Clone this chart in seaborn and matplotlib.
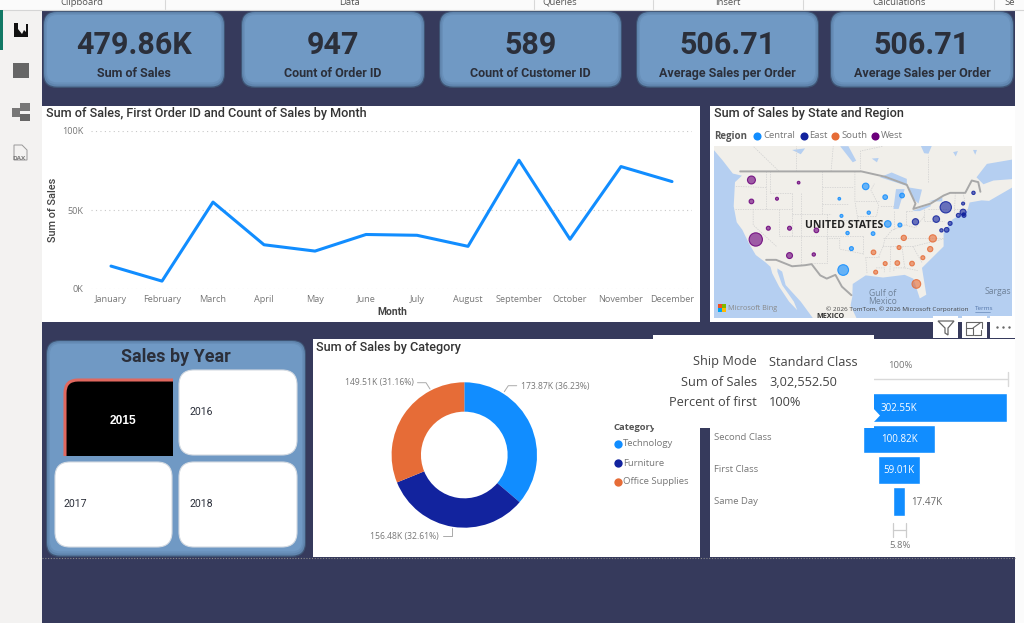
import matplotlib
matplotlib.use("Agg")
import matplotlib.pyplot as plt
import pandas as pd
import seaborn as sns
from matplotlib.patches import FancyBboxPatch, Polygon, Rectangle

# ---- dashboard data ----
kpi_values = ["479.86K", "947", "589", "506.71", "506.71"]
kpi_labels = ["Sum of Sales", "Count of Order ID", "Count of Customer ID",
              "Average Sales per Order", "Average Sales per Order"]

months = ["January", "February", "March", "April", "May", "June", "July",
          "August", "September", "October", "November", "December"]
month_sales = [14500, 5000, 55000, 28000, 24000, 34500, 34000, 27000,
               81500, 31500, 77500, 68000]

categories = ["Technology", "Furniture", "Office Supplies"]
category_sales = [173.87, 156.48, 149.51]
category_labels = ["173.87K (36.23%)", "156.48K (32.61%)", "149.51K (31.16%)"]

ship_modes = ["Standard Class", "Second Class", "First Class", "Same Day"]
ship_sales = [302.55, 100.82, 59.01, 17.47]

years = ["2015", "2016", "2017", "2018"]

regions = ["Central", "East", "South", "West"]
state_region = (["West"] * 10 + ["Central"] * 12 + ["East"] * 12 + ["South"] * 11)
state_lon = [-120.4, -109.5, -120.4, -114.5, -116.5, -111.6, -105.4, -119.4, -111.6, -106.0,
             -94.0, -100.1, -89.5, -85.6, -93.3, -99.6, -88.9, -86.1, -98.2, -92.3, -97.3, -99.2,
             -75.5, -77.7, -82.5, -71.5, -69.1, -71.5, -72.6, -71.3, -74.5, -75.3, -76.5, -71.4,
             -78.5, -79.1, -85.2, -86.3, -92.2, -80.8, -83.3, -86.7, -89.5, -91.7, -82.3]
state_lat = [47.4, 46.9, 43.4, 43.9, 38.4, 38.4, 38.0, 36.3, 33.3, 33.5,
             46.2, 43.9, 44.2, 44.5, 41.3, 40.7, 39.2, 39.0, 37.5, 37.4, 34.6, 30.6,
             42.3, 40.1, 39.6, 43.0, 45.0, 41.4, 40.8, 40.8, 39.3, 38.1, 38.0, 41.0,
             36.5, 34.5, 36.6, 34.8, 33.9, 32.9, 31.8, 31.9, 31.8, 30.2, 28.0]
state_sales = [32, 3.6, 11, 4.5, 8, 8, 11, 90, 18, 5.6,
               22, 3.6, 11, 11, 5.6, 4.5, 22, 8, 5.6, 7, 8, 58,
               65, 22, 20, 4.5, 5.6, 18, 8, 8, 8, 11, 5.6, 4,
               27, 14, 14, 8, 11, 8, 11, 11, 8, 8, 38]

# coastline and water bodies of the base map, as lon/lat rings
land_ring = [(-129.1, 54.0), (-129.1, 53.0), (-127, 51), (-124.7, 48.6), (-122.6, 48.2),
             (-124.2, 47), (-124.5, 42.5), (-123.8, 39.5), (-122.5, 38.1), (-121, 35.6),
             (-119.4, 33.4), (-117.1, 32), (-116, 31.2), (-115.6, 30), (-114, 27.5),
             (-111.7, 24.7), (-109.8, 23.1), (-110.6, 24.7), (-113.3, 27.8), (-114.4, 30.3),
             (-114.4, 30.9), (-113.3, 30.3), (-112.5, 27.8), (-109, 24.7), (-106, 21.4),
             (-96, 21.4), (-97.5, 24), (-97.1, 25.6), (-97, 28), (-94, 29.6), (-90, 29.2), (-85, 29.7),
             (-83, 29), (-81.5, 25.3), (-80, 26), (-81, 31), (-76, 35), (-76, 37.5),
             (-74, 40), (-70.5, 41.7), (-70, 43.2), (-67.2, 43.6), (-65.5, 43.5), (-59.5, 46.3),
             (-59.5, 54)]
lake_rings = [
    [(-90.7, 47.9), (-88, 48.8), (-84.5, 47.6), (-84.5, 46.3), (-87.6, 47.1)],
    [(-87.6, 42), (-86.4, 42), (-85, 45.7), (-87, 45.7)],
    [(-84, 46), (-81, 45.6), (-81.8, 43), (-83.2, 44)],
    [(-83.3, 41.6), (-79, 42.9), (-79, 42.5), (-81.5, 41.6)],
    [(-79.5, 43.4), (-76.3, 44.1), (-76.3, 43.4)],
    [(-99.9, 53.7), (-98, 53.7), (-96.2, 51), (-97, 50.7)],
    [(-81.5, 54.2), (-78.5, 54.2), (-79.5, 52.3), (-80.5, 52.4)],
    [(-68.4, 47.9), (-66, 50.4), (-59.5, 51.3), (-59.5, 47.6), (-64.5, 47.3), (-66.8, 46.6)],
    [(-92.6, 51.4), (-91, 51.5), (-91.4, 50.7)],
    [(-73.8, 52.6), (-72.7, 52.8), (-73.2, 51.8)],
    [(-69.2, 53), (-68.3, 53), (-68.7, 52.1)],
    [(-111, 53), (-108, 53.3), (-109, 52.2)],
]
country_borders = [
    [(-123, 49), (-95, 49), (-89.5, 48), (-84.5, 46.5), (-82.5, 43), (-83, 42), (-79, 43),
     (-76, 44.5), (-74.5, 45), (-71, 45), (-69.5, 47.3), (-68, 47), (-67.5, 45.2)],
    [(-117, 32.5), (-114.7, 32.5), (-111, 31.3), (-108, 31.5), (-106.5, 31.7), (-104.5, 29.6),
     (-103, 29), (-101, 29.7), (-99.5, 27.5), (-97.3, 25.9)],
]
state_borders = [
    [(-124, 46.2), (-117, 46)], [(-124.2, 42), (-111, 42)], [(-120, 42), (-120, 39), (-114.6, 35)],
    [(-114, 42), (-114, 37)], [(-117, 42), (-117, 49)], [(-111, 45), (-111, 37)],
    [(-116, 49), (-116, 45), (-111, 45)], [(-109, 45), (-109, 31.4)], [(-114, 37), (-94.6, 37)],
    [(-104, 49), (-104, 41)], [(-103, 41), (-103, 32), (-106.5, 32)], [(-104, 46), (-97, 46)],
    [(-104, 43), (-98, 43)], [(-102, 40), (-95.3, 40)], [(-111, 41), (-102, 41)],
    [(-103, 36.5), (-100, 36.5), (-100, 34.5), (-94.5, 33.6)], [(-94.6, 37), (-94.6, 33.6)],
    [(-94, 33), (-91, 33)], [(-94, 33), (-93.7, 30)], [(-90, 36.5), (-75.8, 36.5)],
    [(-91, 33), (-90, 35), (-89.5, 36.5), (-89, 37), (-88, 38), (-85, 39), (-82.5, 38.5), (-80.5, 40.6)],
    [(-96.5, 49), (-96.5, 43.5), (-95.8, 40), (-94.6, 39)], [(-91, 43.5), (-96.5, 43.5)],
    [(-95.8, 40.6), (-91.5, 40.6), (-91, 42.7), (-92.8, 45.5), (-92, 46.7)],
    [(-87.5, 42.5), (-90.7, 42.5)], [(-87.5, 41.7), (-87.5, 38)], [(-84.8, 41.7), (-84.8, 39)],
    [(-84.8, 41.7), (-83.4, 41.7)], [(-80.5, 42), (-80.5, 39.7), (-75.8, 39.7)],
    [(-79.7, 42), (-75, 42)], [(-90, 35), (-83, 35), (-75.5, 36.5)],
    [(-88.2, 35), (-88.4, 30.3)], [(-85.6, 35), (-85, 31), (-87.5, 31), (-87.5, 30.3)],
    [(-85, 31), (-82, 30.5)], [(-83.1, 35), (-81, 32)], [(-91.6, 31), (-89.6, 31), (-89.7, 30.2)],
    [(-73.3, 45), (-73.5, 41.2)], [(-71.5, 45), (-71, 43), (-70.8, 42.8)], [(-73.5, 42), (-70, 42)],
    [(-114, 49), (-120, 53.7)], [(-110, 49), (-110, 53.7)], [(-102, 49), (-101.5, 53.7)],
    [(-95.2, 49), (-95.2, 52.8), (-90, 53.7)], [(-79.5, 47), (-79.5, 52)],
]

# ---- palette ----
NAVY = "#363a5c"
CARD = "#7099c4"
INK = "#2b2f3a"
BLUE = "#118dff"
DARK_BLUE = "#12239e"
ORANGE = "#e66c37"
PURPLE = "#6b007b"
WATER = "#b5cff1"
region_colors = dict(zip(regions, [BLUE, DARK_BLUE, ORANGE, PURPLE]))
category_colors = [BLUE, DARK_BLUE, ORANGE]

W, H = 1024, 623
sns.set_theme(style="white")
plt.rcParams["font.family"] = ["Open Sans", "DejaVu Sans"]
HEAD = ["Roboto", "DejaVu Sans"]

fig = plt.figure(figsize=(W / 100, H / 100), dpi=100, facecolor=NAVY)


def box_axes(left, top, right, bottom, z=2):
    ax = fig.add_axes([left / W, 1 - bottom / H, (right - left) / W, (bottom - top) / H], zorder=z)
    ax.patch.set_alpha(0)
    return ax


def page_axes(z):
    ax = box_axes(0, 0, W, H, z)
    ax.set_xlim(0, W)
    ax.set_ylim(H, 0)
    ax.axis("off")
    return ax


page = page_axes(0)
top = page_axes(6)


def rect(ax, x0, y0, x1, y1, color, z=1, **kw):
    ax.add_patch(Rectangle((x0, y0), x1 - x0, y1 - y0, facecolor=color, edgecolor="none", zorder=z, **kw))


def rounded(ax, x0, y0, x1, y1, radius, color, z=2, edge="none", lw=0):
    ax.add_patch(FancyBboxPatch((x0, y0), x1 - x0, y1 - y0,
                                boxstyle=f"round,pad=0,rounding_size={radius}",
                                facecolor=color, edgecolor=edge, linewidth=lw, zorder=z))


def bevel_card(ax, x0, y0, x1, y1, radius=14):
    # stacked outlines give the soft inner shadow of the card visuals
    for inset, shade in [(0, "#3f5575"), (1, "#5f84ad"), (2.5, "#6990ba"), (4, CARD)]:
        rounded(ax, x0 + inset, y0 + inset, x1 - inset, y1 - inset - inset * 0.4,
                max(radius - inset, 3), shade, z=2 + inset)


# ---- application frame ----
rect(page, 0, 0, 42, H, "#f3f2f1")
rect(page, 0, 0, W, 10, "#fbfbfb", z=3)
rect(page, 1015, 0, W, H, "#fbfbfb")
page.plot([0, W], [9.5, 9.5], color="#d5d5d5", lw=0.8, zorder=4)
rect(page, 0, 10, 2.5, 50, "#117865", z=4)
for x in [165, 534, 653, 803, 994]:
    page.plot([x, x], [0, 9], color="#d8d8d8", lw=0.8, zorder=4)
for x, name in [(82, "Clipboard"), (349, "Data"), (560, "Queries"), (728, "Insert"), (899, "Calculations"), (1010, "Se")]:
    page.text(x, 2.5, name, ha="center", va="center", fontsize=6.8, color="#555555", zorder=5, clip_on=True)

# navigation rail glyphs
page.add_patch(Polygon([(14, 23), (18, 23), (18, 29), (22, 34), (24, 30), (26, 32), (26, 24), (28, 24),
                        (28, 37), (14, 37)], facecolor="#111111", edgecolor="none", zorder=4))
rect(page, 13, 63, 29, 78, "#666666", z=4)
rect(page, 20, 103, 30, 111, "#777777", z=4)
rect(page, 20, 114, 30, 121, "#666666", z=4)
rect(page, 12, 108, 20, 117, "#777777", z=4)
page.add_patch(Polygon([(14, 145), (22, 145), (27, 150), (27, 160), (14, 160)], facecolor="none",
                       edgecolor="#999999", lw=0.7, zorder=4))
page.text(19, 158.5, "DAX", ha="center", va="center", fontsize=4.6, color="#777777", fontweight="bold", zorder=5)

# ---- KPI cards ----
card_edges = [(43, 225), (241, 425), (439, 622), (636, 819), (830, 1014)]
for (x0, x1), value, label in zip(card_edges, kpi_values, kpi_labels):
    bevel_card(page, x0, 11, x1, 88)
    page.text((x0 + x1) / 2, 45.5, value, ha="center", va="center", fontsize=22, fontweight="bold",
              family=HEAD, color=INK, zorder=8)
    page.text((x0 + x1) / 2, 73.5, label, ha="center", va="center", fontsize=9, fontweight="bold",
              family=HEAD, color=INK, zorder=8)

# ---- white visual panels ----
rect(page, 42, 106, 700, 322, "white")
rect(page, 710, 106, 1015, 322, "white")
rect(page, 313, 339, 700, 557, "white")
rect(page, 710, 339, 1015, 557, "white")
page.plot([42, 1015], [557.5, 557.5], color="#8a8a8a", lw=0.8, ls=(0, (1, 1.5)), zorder=3)

# ---- monthly sales line ----
line_ax = box_axes(90.6, 131, 692.4, 289)
month_frame = pd.DataFrame({"Month": months, "Sales": month_sales})
sns.lineplot(data=month_frame, x="Month", y="Sales", sort=False, color=BLUE, linewidth=2.2, ax=line_ax)
line_ax.set_xlim(-0.4, 11.4)
line_ax.set_ylim(0, 100000)
line_ax.set_yticks([0, 50000, 100000], ["0K", "50K", "100K"])
line_ax.grid(axis="y", color="#c8c8c8", lw=0.8, ls=(0, (1, 3)))
line_ax.set_axisbelow(True)
line_ax.tick_params(length=0, labelsize=6.6, labelcolor="#777777", pad=4)
line_ax.tick_params(axis="y", pad=5)
line_ax.set_xlabel("")
line_ax.set_ylabel("")
sns.despine(ax=line_ax, left=True, bottom=True)
page.text(46, 114, "Sum of Sales, First Order ID and Count of Sales by Month", ha="left", va="center",
          fontsize=9.1, family=HEAD, fontweight="medium", color="#333333", zorder=4)
page.text(52.5, 210, "Sum of Sales", rotation=90, ha="center", va="center", fontsize=7.8, family=HEAD,
          fontweight="medium", color="#444444", zorder=4)
page.text(392, 312, "Month", ha="center", va="center", fontsize=7.4, family=HEAD, fontweight="bold",
          color="#444444", zorder=4)

# ---- sales by state map ----
page.text(714, 114, "Sum of Sales by State and Region", ha="left", va="center", fontsize=9.1, family=HEAD,
          fontweight="medium", color="#333333", zorder=4)
page.text(714, 136, "Region", ha="left", va="center", fontsize=7, fontweight="bold", color="#555555", zorder=4)
for (mx, tx), region in zip([(757, 763), (804, 809), (835, 841), (875, 881)], regions):
    page.scatter([mx], [135.5], s=34, color=region_colors[region], zorder=4, linewidths=0)
    page.text(tx, 136, region, ha="left", va="center", fontsize=6.8, color="#777777", zorder=4)

map_ax = box_axes(714, 146, 1012, 318)
map_ax.set_facecolor(WATER)
map_ax.patch.set_alpha(1)
map_ax.add_patch(Polygon(land_ring, facecolor="#f1efea", edgecolor="none", zorder=1))
for ring in lake_rings:
    map_ax.add_patch(Polygon(ring, facecolor=WATER, edgecolor="none", zorder=1.1))
for seg in state_borders:
    map_ax.plot(*zip(*seg), color="#cfcfcf", lw=0.5, ls=(0, (2, 1.5)), zorder=1.2)
for seg in country_borders:
    map_ax.plot(*zip(*seg), color="#a8a8a8", lw=1.4, zorder=1.3)
state_frame = pd.DataFrame({"lon": state_lon, "lat": state_lat, "sales": state_sales, "region": state_region})
sns.scatterplot(data=state_frame, x="lon", y="lat", size="sales", hue="region", palette=region_colors,
                sizes=(0, 92), size_norm=(0, 90), legend=False, zorder=3, linewidth=0.8, ax=map_ax)
bubbles = map_ax.collections[-1]
solid = bubbles.get_facecolors().copy()
soft = solid.copy()
soft[:, 3] = 0.62
solid[:, 3] = 0.85
bubbles.set_facecolors(soft)
bubbles.set_edgecolors(solid)
map_ax.set_xlim(-129.05, -60.2)
map_ax.set_ylim(21.65, 53.74)
map_ax.set_xlabel("")
map_ax.set_ylabel("")
map_ax.set_xticks([])
map_ax.set_yticks([])
for side in map_ax.spines.values():
    side.set_visible(False)

page_map = page_axes(3)
page_map.text(844, 225, "UNITED STATES", ha="center", va="center", fontsize=7.6, fontweight="bold", color="#222222")
page_map.text(882.5, 293, "Gulf of", ha="center", va="center", fontsize=6.2, color="#6f8299")
page_map.text(882.5, 301, "Mexico", ha="center", va="center", fontsize=6.2, color="#6f8299")
page_map.text(1011.5, 292, "Sargas", ha="right", va="center", fontsize=6.2, color="#6f8299")
page_map.text(830.5, 316, "MEXICO", ha="center", va="center", fontsize=5.2, fontweight="bold", color="#333333")
page_map.text(826, 309, "© 2026 TomTom, © 2026 Microsoft Corporation", ha="left", va="center", fontsize=4.6, color="#444444")
page_map.text(975, 309, "Terms", ha="left", va="center", fontsize=4.6, color="#5577aa")
page_map.plot([975, 990], [312, 312], color="#5577aa", lw=0.4)
for (x, y), logo in zip([(718, 304), (722, 304), (718, 308), (722, 308)], ["#f25022", "#7fba00", "#00a4ef", "#ffb900"]):
    rect(page_map, x, y, x + 3.8, y + 3.8, logo)
page_map.text(728, 308, "Microsoft Bing", ha="left", va="center", fontsize=5.2, color="#888888")

# visual header icons under the map
for x0, x1 in [(933, 958), (962, 987), (990, 1015)]:
    rect(top, x0, 316, x1, 338, "white", z=1)
top.add_patch(Polygon([(938, 321), (954, 321), (948, 328), (948, 335), (945, 333), (945, 328)],
                      facecolor="none", edgecolor="#666666", lw=0.9, zorder=2))
top.plot([966, 966, 982, 982], [328, 322, 322, 328], color="#666666", lw=0.8, zorder=2)
top.plot([966, 966, 973, 973, 966], [328, 335, 335, 328, 328], color="#666666", lw=0.8, zorder=2)
top.plot([974, 981, 981], [335, 335, 330], color="#666666", lw=0.8, zorder=2)
top.plot([973, 980], [328, 323], color="#666666", lw=0.8, zorder=2)
top.scatter([996.5, 1002.5, 1008.5], [327, 327, 327], s=3, color="#666666", zorder=2, linewidths=0)

# ---- year slicer ----
bevel_card(page, 46, 340, 306, 557, radius=14)
page.text(176, 356.5, "Sales by Year", ha="center", va="center", fontsize=13, fontweight="bold", family=HEAD,
          color=INK, zorder=8)
for (x0, y0, x1, y1), (tx, ty), year in zip(
        [(179, 370, 297, 455), (55, 462, 172, 547), (179, 462, 297, 547)],
        [(189, 412), (64, 504), (189, 504)], years[1:]):
    rounded(page, x0, y0, x1, y1, 15, "white", z=8, edge="#d5dbe2", lw=0.8)
    page.text(tx, ty, year, ha="left", va="center", fontsize=7.6, family=HEAD, color=INK, zorder=9)
# the selected year's button is cut off square on its right and lower sides
selected = FancyBboxPatch((65, 380), 125, 92, boxstyle="round,pad=0,rounding_size=13",
                          facecolor="black", edgecolor="#e0685f", linewidth=2.2, zorder=8)
page.add_patch(selected)
selected.set_clip_path(Rectangle((60, 374), 113, 81.5, transform=page.transData))
page.text(122.5, 421, years[0], ha="center", va="center", fontsize=8.6, fontweight="bold",
          family=["Liberation Sans", "DejaVu Sans"], color="white", zorder=9)

# ---- category donut ----
page.text(316.5, 347, "Sum of Sales by Category", ha="left", va="center", fontsize=9.1, family=HEAD,
          fontweight="medium", color="#333333", zorder=4)
donut_ax = box_axes(391.6, 382.3, 537, 527.7)
donut_ax.pie(category_sales, colors=category_colors, startangle=90, counterclock=False, radius=1,
             wedgeprops={"width": 0.404, "edgecolor": "none"})
donut_ax.set_xlim(-1, 1)
donut_ax.set_ylim(-1, 1)
for label, text_xy, ha, leader in zip(
        category_labels,
        [(521, 386), (439, 536), (413.5, 383)],
        ["left", "right", "right"],
        [[(504.3, 391.7), (508.3, 385.7), (516.7, 385.7)],
         [(452, 528), (452, 535.7), (443, 535.7)],
         [(430, 389), (426, 382.7), (417.5, 382.7)]]):
    page.text(*text_xy, label, ha=ha, va="center", fontsize=6.2, color="#777777", zorder=4)
    page.plot(*zip(*leader), color="#aaaaaa", lw=0.7, zorder=4)
page.text(613, 427, "Category", ha="left", va="center", fontsize=6.8, fontweight="bold", color="#555555", zorder=4)
for y, category, color in zip([444, 463, 482], categories, category_colors):
    page.scatter([618], [y - 0.5], s=36, color=color, zorder=4, linewidths=0)
    page.text(623, y, category, ha="left", va="center", fontsize=6.8, color="#777777", zorder=4)

# ---- ship mode funnel ----
funnel_ax = box_axes(791, 391.85, 1007.4, 517.1)
ship_frame = pd.DataFrame({"mode": ship_modes, "sales": ship_sales})
sns.barplot(data=ship_frame, y="mode", x="sales", color=BLUE, saturation=1, width=0.91, orient="h", ax=funnel_ax)
for bar in funnel_ax.patches:
    bar.set_x(-bar.get_width() / 2)
funnel_ax.set_xlim(-151.275, 151.275)
funnel_ax.set_ylim(3.5, -0.5)
funnel_ax.axis("off")
for row, (bar, value) in enumerate(zip(funnel_ax.patches, ship_sales)):
    text = f"{value:.2f}K"
    if value > 30:
        funnel_ax.text(0, row + 0.02, text, ha="center", va="center", fontsize=7, color="white", fontweight="medium")
    else:
        funnel_ax.text(bar.get_width() / 2 + 8, row + 0.02, text, ha="left", va="center", fontsize=7, color="#666666")
for y, mode in zip([438, 469.5, 501], ship_modes[1:]):
    page.text(714, y, mode, ha="left", va="center", fontsize=6.8, color="#777777", zorder=4)
page.text(900, 366, "100%", ha="center", va="center", fontsize=6.8, color="#777777", zorder=4)
page.plot([800, 1007.5], [379, 379], color="#d9d9d9", lw=1, zorder=4)
page.plot([1007.5, 1007.5], [372, 386], color="#d9d9d9", lw=1, zorder=4)
page.plot([893, 893], [523, 537], color="#cccccc", lw=0.9, zorder=4)
page.plot([906, 906], [523, 537], color="#cccccc", lw=0.9, zorder=4)
page.plot([893, 906], [530, 530], color="#cccccc", lw=0.9, zorder=4)
page.text(900, 545, "5.8%", ha="center", va="center", fontsize=6.8, color="#777777", zorder=4)

# ---- hover tooltip on the first funnel bar ----
rect(top, 700, 428, 710, 557, NAVY, z=0.5)
rect(top, 653, 335, 874, 428, "white", z=1)
top.add_patch(Polygon([(873, 408), (880, 415.5), (873, 423)], facecolor="white", edgecolor="none", zorder=1))
for y, key, value in zip([362, 382, 402], ["Ship Mode", "Sum of Sales", "Percent of first"],
                         ["Standard Class", "3,02,552.50", "100%"]):
    top.text(757, y, key, ha="right", va="center", fontsize=9.2, color="#444444", zorder=2)
    top.text(769, y, value, ha="left", va="center", fontsize=9.2, color="#444444", zorder=2)

fig.savefig("out.png", dpi=100, facecolor=NAVY)
